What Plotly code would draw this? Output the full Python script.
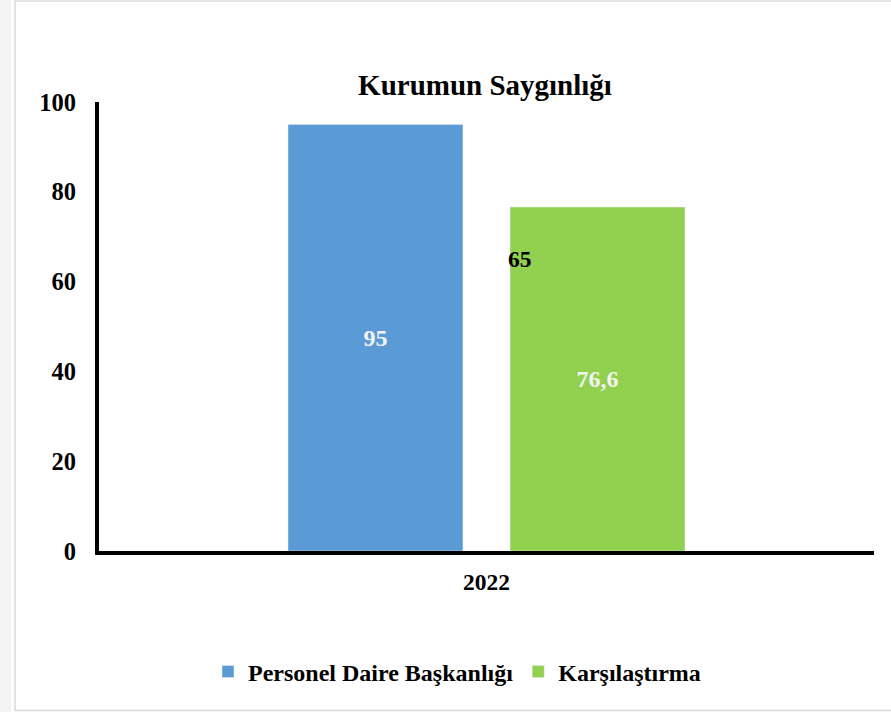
import plotly.graph_objects as go

categories = ["2022"]
series_names = ["Personel Daire Başkanlığı", "Karşılaştırma"]
series_values = [[95], [76.6]]
series_colors = ["#5B9BD5", "#92D050"]
extra_label_value = 65
y_ticks = [0, 20, 40, 60, 80, 100]
title_text = "Kurumun Saygınlığı"

W, H = 891, 712
L, R, T, B = 99, 17, 102, 161
pw, ph = W - L - R, H - T - B

def px_x(px):
    return (px - L) / pw

def px_y(py):
    return (H - B - py) / ph

FONT = "Liberation Serif, Times New Roman, serif"

fig = go.Figure()
for name, vals, col in zip(series_names, series_values, series_colors):
    fig.add_trace(go.Bar(
        x=categories, y=vals, name=name, marker_color=col,
        texttemplate="%{y}", textposition="inside", insidetextanchor="middle",
        textangle=0,
        textfont=dict(family=FONT, size=24, color="#f2f2f2", weight="bold"),
    ))

# category axes place annotations by category index
fig.add_annotation(
    x=categories.index("2022"), y=extra_label_value, xref="x", yref="y",
    text=str(extra_label_value), showarrow=False, xanchor="left", yanchor="middle",
    xshift=19, font=dict(family=FONT, size=23.5, color="black", weight="bold"),
)

shapes = [
    dict(type="rect", xref="paper", yref="paper",
         x0=px_x(0), x1=px_x(11), y0=px_y(712), y1=px_y(0),
         fillcolor="#f3f3f3", line=dict(width=0), layer="below"),
    dict(type="line", xref="paper", yref="paper",
         x0=px_x(15), x1=px_x(15), y0=px_y(711), y1=px_y(0),
         line=dict(color="#d9d9d9", width=1.5)),
    dict(type="line", xref="paper", yref="paper",
         x0=px_x(15), x1=px_x(891), y0=px_y(1), y1=px_y(1),
         line=dict(color="#dcdcdc", width=1.5)),
    dict(type="line", xref="paper", yref="paper",
         x0=px_x(15), x1=px_x(891), y0=px_y(710.5), y1=px_y(710.5),
         line=dict(color="#d9d9d9", width=1.5)),
]

fig.update_layout(
    width=W, height=H,
    margin=dict(l=L, r=R, t=T, b=B, autoexpand=False),
    paper_bgcolor="white", plot_bgcolor="white",
    separators=",.",
    barmode="group", bargap=0.427, bargroupgap=0.212,
    title=dict(text=title_text, x=px_x(485), xref="paper", xanchor="center",
               y=1 - 85 / H, yanchor="middle",
               font=dict(family=FONT, size=29, color="black", weight="bold")),
    font=dict(family=FONT, color="black"),
    showlegend=True,
    legend=dict(orientation="h", x=px_x(457), xanchor="center",
                y=px_y(672), yanchor="middle",
                font=dict(family=FONT, size=24, color="black", weight="bold"),
                itemwidth=30, traceorder="normal"),
    shapes=shapes,
)
fig.update_xaxes(
    type="category", range=[-0.5, len(categories) - 0.5],
    showline=True, linecolor="black", linewidth=4, showgrid=False,
    ticks="", tickfont=dict(family=FONT, size=23.5, color="black", weight="bold"),
    ticklabelstandoff=7,
)
fig.update_yaxes(
    range=[0, 100], tickvals=y_ticks, showline=True, linecolor="black",
    linewidth=4, showgrid=False, zeroline=False, ticks="",
    tickfont=dict(family=FONT, size=24.5, color="black", weight="bold"),
    ticklabelstandoff=14,
)

fig.write_html("out.html",
               config={"displayModeBar": False},
               post_script="document.body.style.margin='0';document.body.style.overflow='hidden';")
